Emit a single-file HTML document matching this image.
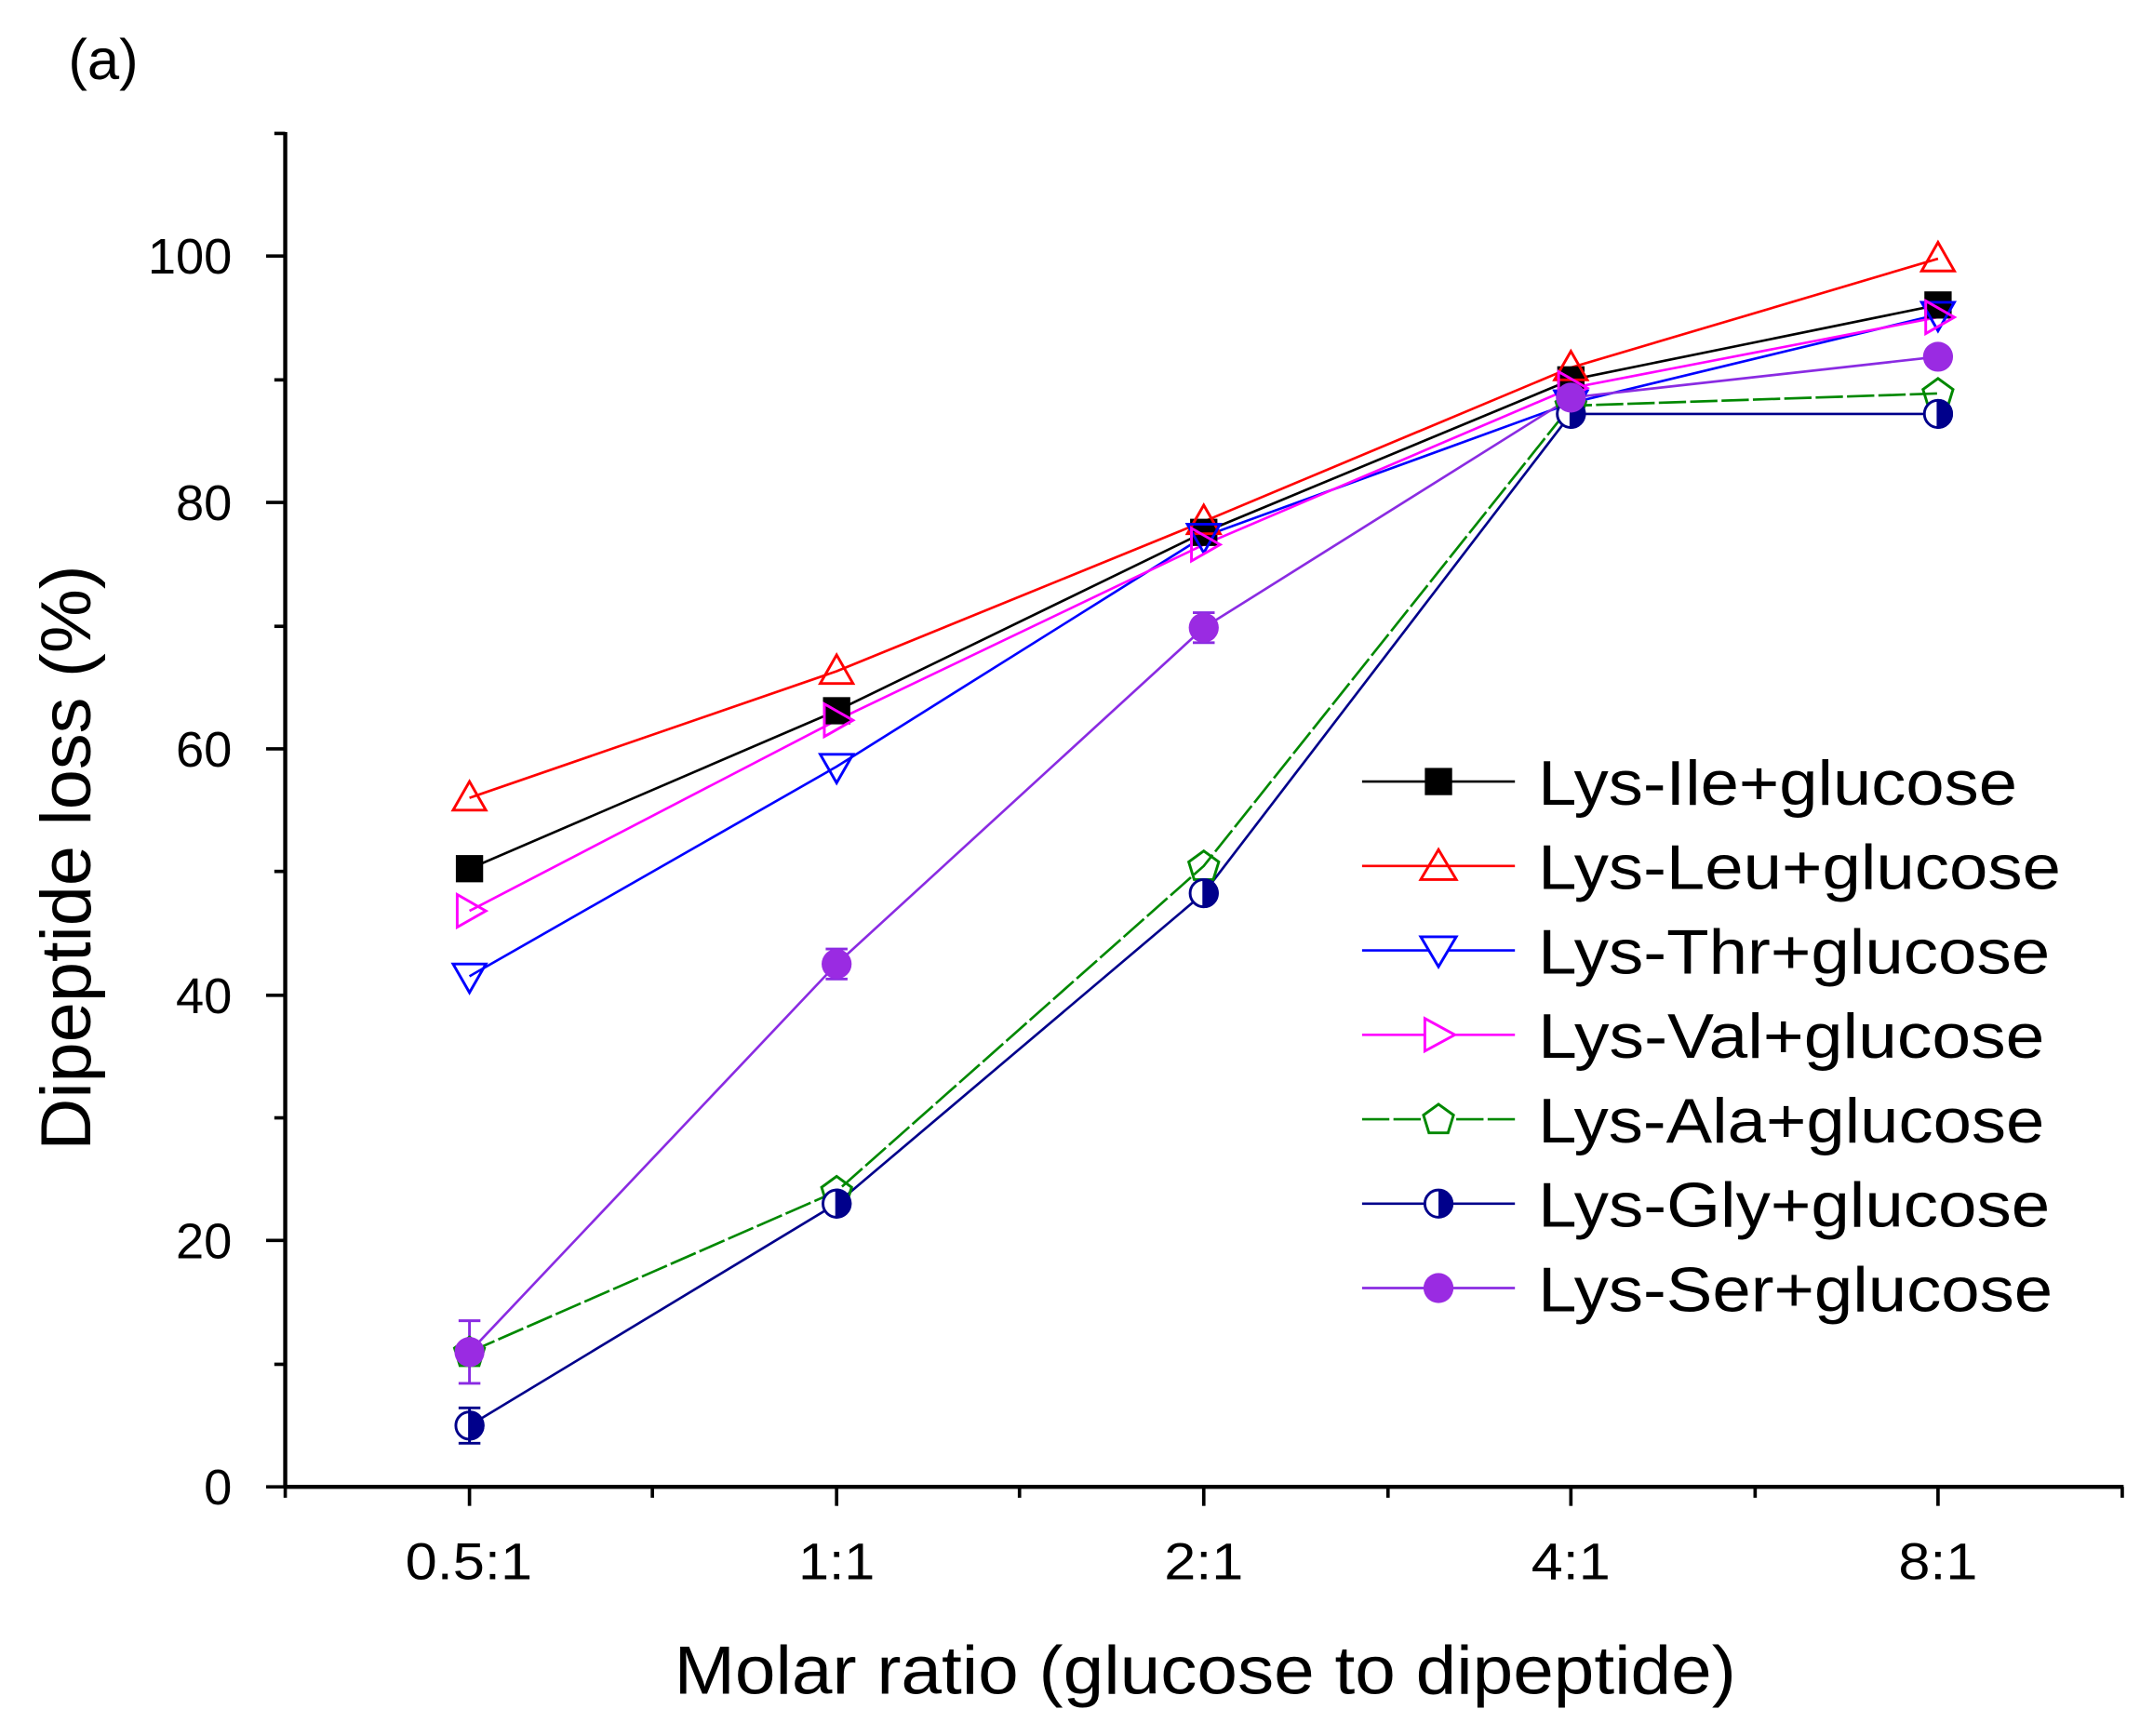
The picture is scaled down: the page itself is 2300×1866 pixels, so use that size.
<!DOCTYPE html>
<html><head><meta charset="utf-8"><style>html,body{margin:0;padding:0;background:#fff}svg{display:block}</style></head>
<body>
<svg width="2300" height="1866" viewBox="0 0 1568 1275" preserveAspectRatio="none" xmlns="http://www.w3.org/2000/svg" font-family="Liberation Sans, sans-serif">
<rect width="1568" height="1275" fill="#fff"/>
<text x="50" y="58" font-size="42">(a)</text>
<g stroke="#000" stroke-width="3" fill="none">
<line x1="209" y1="97" x2="209" y2="1093"/>
<line x1="208" y1="1092" x2="1556" y2="1092"/>
</g>
<g stroke="#000" stroke-width="2.5">
<line x1="195" y1="1092" x2="209" y2="1092"/><line x1="195" y1="911" x2="209" y2="911"/><line x1="195" y1="731" x2="209" y2="731"/><line x1="195" y1="550" x2="209" y2="550"/><line x1="195" y1="369" x2="209" y2="369"/><line x1="195" y1="188" x2="209" y2="188"/>
<line x1="201" y1="1002" x2="209" y2="1002"/><line x1="201" y1="821" x2="209" y2="821"/><line x1="201" y1="640" x2="209" y2="640"/><line x1="201" y1="460" x2="209" y2="460"/><line x1="201" y1="279" x2="209" y2="279"/><line x1="201" y1="98" x2="209" y2="98"/>
<line x1="344" y1="1092" x2="344" y2="1106"/><line x1="613" y1="1092" x2="613" y2="1106"/><line x1="882" y1="1092" x2="882" y2="1106"/><line x1="1151" y1="1092" x2="1151" y2="1106"/><line x1="1420" y1="1092" x2="1420" y2="1106"/>
<line x1="209" y1="1092" x2="209" y2="1100"/><line x1="478" y1="1092" x2="478" y2="1100"/><line x1="747" y1="1092" x2="747" y2="1100"/><line x1="1017" y1="1092" x2="1017" y2="1100"/><line x1="1286" y1="1092" x2="1286" y2="1100"/><line x1="1555" y1="1092" x2="1555" y2="1100"/>
</g>
<g font-size="37" text-anchor="end">
<text x="170" y="1105">0</text><text x="170" y="924">20</text><text x="170" y="744">40</text><text x="170" y="563">60</text><text x="170" y="382">80</text><text x="170" y="201">100</text>
</g>
<g font-size="38">
<text x="297" y="1160" textLength="93" lengthAdjust="spacingAndGlyphs">0.5:1</text>
<text x="585" y="1160" textLength="56" lengthAdjust="spacingAndGlyphs">1:1</text>
<text x="853" y="1160" textLength="58" lengthAdjust="spacingAndGlyphs">2:1</text>
<text x="1122" y="1160" textLength="58" lengthAdjust="spacingAndGlyphs">4:1</text>
<text x="1391" y="1160" textLength="58" lengthAdjust="spacingAndGlyphs">8:1</text>
</g>
<text x="494" y="1244" font-size="50" textLength="778" lengthAdjust="spacingAndGlyphs">Molar ratio (glucose to dipeptide)</text>
<text transform="translate(66 845) rotate(-90)" font-size="52" textLength="430" lengthAdjust="spacingAndGlyphs">Dipeptide loss (%)</text>
<g fill="none" stroke-width="1.8">
<polyline stroke="#000" points="344,638 613,522 882,391 1151,279 1420,224"/>
<polyline stroke="#f00" points="344,586 613,493 882,383 1151,270 1420,190"/>
<polyline stroke="#00f" points="344,717 613,563 882,394 1151,296 1420,231"/>
<polyline stroke="#f0f" points="344,669 613,529 882,400 1151,285 1420,233"/>
<polyline stroke="#080" stroke-dasharray="20,3" points="344,993 613,875 882,636 1151,298 1420,289"/>
<polyline stroke="#00008b" points="344,1047 613,884 882,656 1151,304 1420,304"/>
<polyline stroke="#8a2be2" points="344,993 613,708 882,461 1151,292 1420,262"/>
</g>
<g stroke-width="2">
<path d="M344 970V1016M336 970H352M336 1016H352" stroke="#8a2be2"/>
<path d="M344 1034V1060M336 1034H352M336 1060H352" stroke="#00008b"/>
<path d="M613 697V719M605 697H621M605 719H621" stroke="#8a2be2"/>
<path d="M882 450V472M874 450H890M874 472H890" stroke="#8a2be2"/>
</g>
<g fill="#000"><rect x="334" y="628" width="20" height="20"/><rect x="603" y="512" width="20" height="20"/><rect x="872" y="381" width="20" height="20"/><rect x="1141" y="269" width="20" height="20"/><rect x="1410" y="214" width="20" height="20"/></g>
<g fill="none" stroke="#f00" stroke-width="2"><path d="M344 574l12 21h-24z"/><path d="M613 481l12 21h-24z"/><path d="M882 371l12 21h-24z"/><path d="M1151 258l12 21h-24z"/><path d="M1420 178l12 21h-24z"/></g>
<g fill="none" stroke="#00f" stroke-width="2"><path d="M344 729l12-21h-24z"/><path d="M613 575l12-21h-24z"/><path d="M882 406l12-21h-24z"/><path d="M1151 308l12-21h-24z"/><path d="M1420 243l12-21h-24z"/></g>
<g fill="none" stroke="#f0f" stroke-width="2"><path d="M356 669l-21-12v24z"/><path d="M625 529l-21-12v24z"/><path d="M894 400l-21-12v24z"/><path d="M1163 285l-21-12v24z"/><path d="M1432 233l-21-12v24z"/></g>
<g fill="none" stroke="#080" stroke-width="2"><path d="M344 982l11 8-4 13h-14l-4-13z"/><path d="M613 864l11 8-4 13h-14l-4-13z"/><path d="M882 625l11 8-4 13h-14l-4-13z"/><path d="M1151 287l11 8-4 13h-14l-4-13z"/><path d="M1420 278l11 8-4 13h-14l-4-13z"/></g>
<g stroke="#00008b" stroke-width="2"><g fill="#fff"><circle cx="344" cy="1047" r="10"/><circle cx="613" cy="884" r="10"/><circle cx="882" cy="656" r="10"/><circle cx="1151" cy="304" r="10"/><circle cx="1420" cy="304" r="10"/></g>
<g fill="#00008b"><path d="M344 1037a10 10 0 0 1 0 20z"/><path d="M613 874a10 10 0 0 1 0 20z"/><path d="M882 646a10 10 0 0 1 0 20z"/><path d="M1151 294a10 10 0 0 1 0 20z"/><path d="M1420 294a10 10 0 0 1 0 20z"/></g></g>
<g fill="#9a2be2"><circle cx="344" cy="993" r="11"/><circle cx="613" cy="708" r="11"/><circle cx="882" cy="461" r="11"/><circle cx="1151" cy="292" r="11"/><circle cx="1420" cy="262" r="11"/></g>
<g stroke-width="1.8">
<line x1="998" y1="574" x2="1110" y2="574" stroke="#000"/><rect x="1044" y="564" width="20" height="20"/>
<line x1="998" y1="636" x2="1110" y2="636" stroke="#f00"/><path d="M1054 624l13 22h-26z" fill="none" stroke="#f00" stroke-width="2"/>
<line x1="998" y1="698" x2="1110" y2="698" stroke="#00f"/><path d="M1054 710l13-22h-26z" fill="#fff" stroke="#00f" stroke-width="2"/>
<line x1="998" y1="760" x2="1110" y2="760" stroke="#f0f"/><path d="M1066 760l-22-12v24z" fill="#fff" stroke="#f0f" stroke-width="2"/>
<line x1="998" y1="822" x2="1110" y2="822" stroke="#080" stroke-dasharray="20,3"/><path d="M1054 811l11 8-4 13h-14l-4-13z" fill="#fff" stroke="#080" stroke-width="2"/>
<line x1="998" y1="884" x2="1110" y2="884" stroke="#00008b"/><circle cx="1054" cy="884" r="10" fill="#fff" stroke="#00008b" stroke-width="2"/><path d="M1054 874a10 10 0 0 1 0 20z" fill="#00008b"/>
<line x1="998" y1="946" x2="1110" y2="946" stroke="#8a2be2"/><circle cx="1054" cy="946" r="11" fill="#9a2be2"/>
</g>
<g font-size="46" lengthAdjust="spacingAndGlyphs">
<text x="1127" y="591" textLength="351" lengthAdjust="spacingAndGlyphs">Lys-Ile+glucose</text>
<text x="1127" y="653" textLength="383" lengthAdjust="spacingAndGlyphs">Lys-Leu+glucose</text>
<text x="1127" y="715" textLength="375" lengthAdjust="spacingAndGlyphs">Lys-Thr+glucose</text>
<text x="1127" y="777" textLength="371" lengthAdjust="spacingAndGlyphs">Lys-Val+glucose</text>
<text x="1127" y="839" textLength="371" lengthAdjust="spacingAndGlyphs">Lys-Ala+glucose</text>
<text x="1127" y="901" textLength="375" lengthAdjust="spacingAndGlyphs">Lys-Gly+glucose</text>
<text x="1127" y="963" textLength="377" lengthAdjust="spacingAndGlyphs">Lys-Ser+glucose</text>
</g>
</svg>
</body></html>
